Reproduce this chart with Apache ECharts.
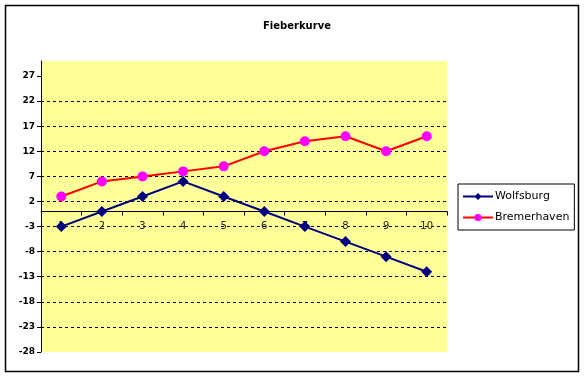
<!DOCTYPE html>
<html><head><meta charset="utf-8">
<script src="https://cdn.jsdelivr.net/npm/echarts@6/dist/echarts.min.js"></script>
<style>html,body{margin:0;padding:0;background:#fff}#c{width:584px;height:377px}</style>
</head><body><div id="c"></div>
<script>
var categories = ['1','2','3','4','5','6','7','8','9','10'];
var wolfsburg = [-3, 0, 3, 6, 3, 0, -3, -6, -9, -12];
var bremerhaven = [3, 6, 7, 8, 9, 12, 14, 15, 12, 15];
var yTicks = [-28, -23, -18, -13, -8, -3, 2, 7, 12, 17, 22, 27];
var yMin = -28, yMax = 30, yStep = 5;

var gridTop = 61, gridBottom = 25, chartH = 377;
var plotH = chartH - gridTop - gridBottom;
// distance from the bottom edge of the plot to the value 0, so the category axis crosses at 0
var zeroOffset = plotH * (0 - yMin) / (yMax - yMin);

var chart = echarts.init(document.getElementById('c'), null, {renderer: 'canvas'});
chart.setOption({
  animation: false,
  backgroundColor: '#ffffff',
  title: {
    text: 'Fieberkurve', left: 292, top: 16, textAlign: 'center',
    textStyle: {fontFamily: 'DejaVu Sans', fontSize: 10, fontWeight: 'bold', color: '#000'}
  },
  graphic: [{
    type: 'rect', shape: {x: 5.5, y: 5.5, width: 573, height: 366},
    style: {fill: 'none', stroke: '#000', lineWidth: 1.5}, silent: true, z: -1
  }],
  legend: {
    orient: 'vertical', left: 458, top: 184,
    padding: [7, 5, 7, 4], itemGap: 10, itemWidth: 30, itemHeight: 9,
    borderColor: '#000', borderWidth: 1, backgroundColor: '#fff',
    textStyle: {fontFamily: 'DejaVu Sans', fontSize: 11, color: '#000', padding: [0,0,0,-3]},
    data: ['Wolfsburg', 'Bremerhaven']
  },
  grid: {
    left: 41, right: 137, top: gridTop, bottom: gridBottom,
    show: true, backgroundColor: '#FFFF99', borderWidth: 0
  },
  xAxis: {
    type: 'category', data: categories, boundaryGap: true,
    position: 'bottom', offset: -zeroOffset,
    axisLine: {onZero: false, lineStyle: {color: '#000', width: 1}},
    axisTick: {show: true, length: 4, inside: false, lineStyle: {color: '#000'}},
    axisLabel: {margin: 10, fontFamily: 'DejaVu Sans', fontSize: 10, color: '#222'},
    splitLine: {show: false}
  },
  yAxis: {
    type: 'value', min: yMin, max: yMax, interval: yStep,
    axisLine: {show: true, lineStyle: {color: '#000', width: 1}},
    axisTick: {show: true, length: 4, lineStyle: {color: '#000'}, customValues: yTicks},
    axisLabel: {margin: 6, fontFamily: 'DejaVu Sans', fontSize: 9, fontWeight: 'bold', color: '#000', customValues: yTicks},
    splitLine: {show: true, showMinLine: false, showMaxLine: false, lineStyle: {color: '#000', type: [3, 3], width: 1}}
  },
  series: [
    {
      name: 'Wolfsburg', type: 'line', data: wolfsburg,
      symbol: 'diamond', symbolSize: 11,
      lineStyle: {color: '#000080', width: 2},
      itemStyle: {color: '#000080'}
    },
    {
      name: 'Bremerhaven', type: 'line', data: bremerhaven,
      symbol: 'circle', symbolSize: 10,
      lineStyle: {color: '#FF0000', width: 2},
      itemStyle: {color: '#FF00FF'}
    }
  ]
});
</script>
</body></html>
